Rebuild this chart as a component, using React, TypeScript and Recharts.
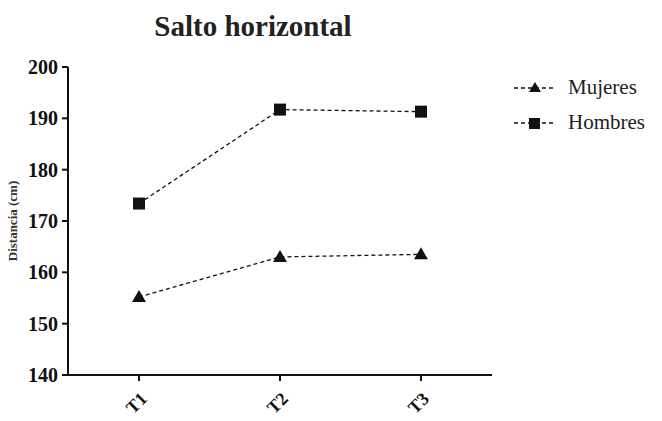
import React from 'react';
import { Legend, Line, LineChart, XAxis, YAxis } from 'recharts';

const times = ['T1', 'T2', 'T3'];
const mujeres = [155.2, 163.0, 163.5];
const hombres = [173.4, 191.7, 191.3];
const yTicks = [140, 150, 160, 170, 180, 190, 200];

const data = times.map((t, i) => ({ t, mujeres: mujeres[i], hombres: hombres[i] }));

const serif = '"Liberation Serif", "DejaVu Serif", serif';

const SquareDot = (props: any) => {
  const { cx, cy } = props;
  if (cx == null || cy == null) return null;
  return <rect x={cx - 6} y={cy - 6} width={12} height={12} fill="#111" />;
};

const TriangleDot = (props: any) => {
  const { cx, cy } = props;
  if (cx == null || cy == null) return null;
  return <polygon points={`${cx},${cy - 7} ${cx - 7},${cy + 5} ${cx + 7},${cy + 5}`} fill="#111" />;
};

const XTick = (props: any) => {
  const { x, y, payload } = props;
  return (
    <text
      x={x + 9}
      y={y + 17}
      transform={`rotate(-45, ${x + 9}, ${y + 17})`}
      textAnchor="end"
      fontFamily={serif}
      fontWeight="bold"
      fontSize={18}
      fill="#111"
    >
      {payload.value}
    </text>
  );
};

const LegendContent = () => {
  const items = [
    { name: 'Mujeres', shape: 'tri' },
    { name: 'Hombres', shape: 'sq' },
  ];
  return (
    <div style={{ fontFamily: serif, fontSize: 21, color: '#222' }}>
      {items.map((it) => (
        <div key={it.name} style={{ display: 'flex', alignItems: 'center', height: 35 }}>
          <svg width={42} height={16} style={{ marginRight: 12 }}>
            <line x1={0} y1={8} x2={42} y2={8} stroke="#111" strokeWidth={1.3} strokeDasharray="4 3" />
            {it.shape === 'tri' ? (
              <polygon points="21,2 15,12 27,12" fill="#111" />
            ) : (
              <rect x={15} y={3} width={11} height={11} fill="#111" />
            )}
          </svg>
          <span>{it.name}</span>
        </div>
      ))}
    </div>
  );
};

export default function App() {
  return (
    <div style={{ position: 'fixed', left: 0, top: 0, width: 662, height: 421, background: '#fff' }}>
      <div
        style={{
          position: 'absolute',
          left: 0,
          width: 506,
          top: 10,
          textAlign: 'center',
          fontFamily: serif,
          fontWeight: 'bold',
          fontSize: 29,
          color: '#222',
        }}
      >
        Salto horizontal
      </div>
      <LineChart width={662} height={421} data={data} margin={{ top: 67, right: 170, left: 8, bottom: 0 }}>
        <XAxis
          dataKey="t"
          padding={{ left: 71, right: 71 }}
          height={46}
          axisLine={{ stroke: '#111', strokeWidth: 2 }}
          tickLine={{ stroke: '#111', strokeWidth: 2 }}
          tickSize={6}
          tick={<XTick />}
          interval={0}
        />
        <YAxis
          domain={[140, 200]}
          ticks={yTicks}
          width={60}
          axisLine={{ stroke: '#111', strokeWidth: 2 }}
          tickLine={{ stroke: '#111', strokeWidth: 2 }}
          tickSize={6}
          tickMargin={4}
          tick={{ fontFamily: serif, fontWeight: 'bold', fontSize: 20, fill: '#111' }}
          label={{
            value: 'Distancia (cm)',
            angle: -90,
            position: 'insideLeft',
            offset: 4,
            style: { fontFamily: serif, fontWeight: 'bold', fontSize: 13, fill: '#333', textAnchor: 'middle' },
          }}
        />
        <Legend
          layout="vertical"
          align="center"
          verticalAlign="middle"
          content={<LegendContent />}
          wrapperStyle={{ left: 514, top: 70, width: 148, height: 80 }}
        />
        <Line
          dataKey="mujeres"
          name="Mujeres"
          stroke="#111"
          strokeWidth={1.3}
          strokeDasharray="4 3"
          dot={<TriangleDot />}
          activeDot={false}
          isAnimationActive={false}
        />
        <Line
          dataKey="hombres"
          name="Hombres"
          stroke="#111"
          strokeWidth={1.3}
          strokeDasharray="4 3"
          dot={<SquareDot />}
          activeDot={false}
          isAnimationActive={false}
        />
      </LineChart>
    </div>
  );
}
